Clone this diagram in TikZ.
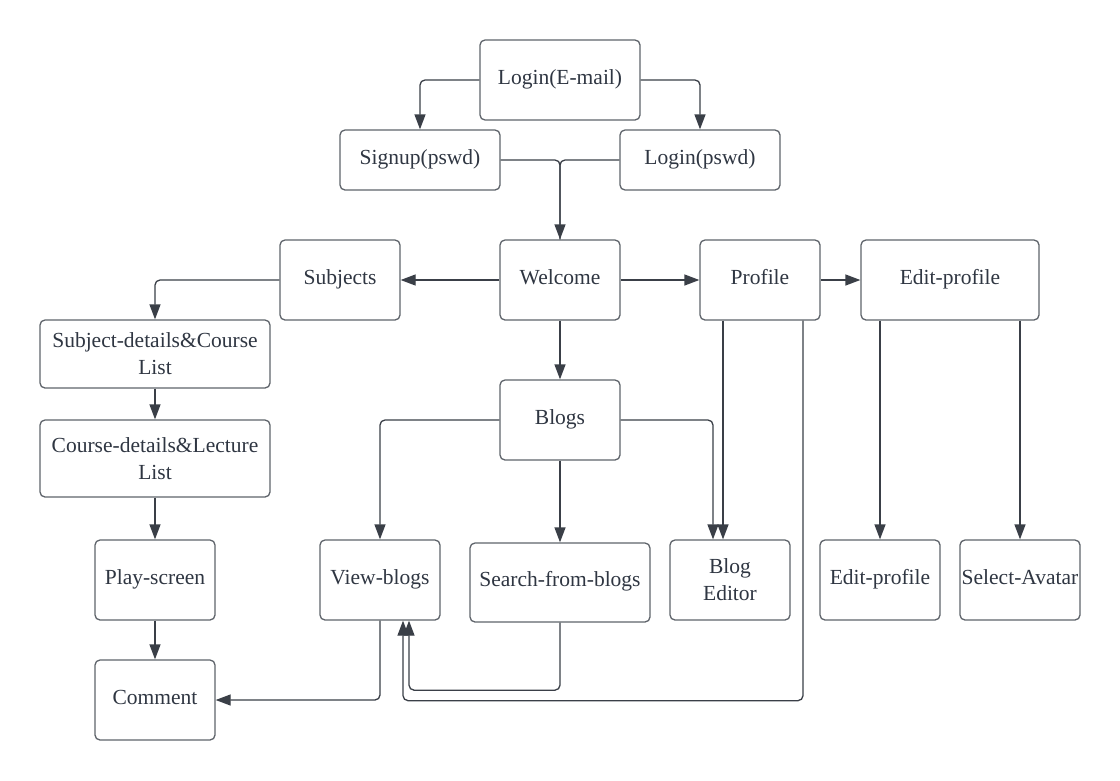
\documentclass[tikz,border=0pt]{standalone}
\usepackage{fontspec}
\setmainfont{Liberation Serif}
\usetikzlibrary{arrows.meta,calc}
\definecolor{boxc}{HTML}{5F646B}
\definecolor{linec}{HTML}{3A3F47}
\definecolor{textc}{HTML}{2F3642}
\begin{document}
\begin{tikzpicture}[x=1pt,y=-1pt,
 box/.style={draw=boxc,line width=1.3pt,rounded corners=5pt,fill=white,text=textc,align=center,font=\fontsize{21.5}{27}\selectfont,inner sep=0pt},
 one/.style={text height=15pt,text depth=7pt},
 arr/.style={draw=linec,line width=1.3pt,rounded corners=5pt,-{Triangle[length=15pt,width=11pt]}},
 ln/.style={draw=linec,line width=1.3pt,rounded corners=5pt}]
\useasboundingbox[fill=white] (0,0) rectangle (1120,780);
\node[box,one,minimum width=160pt,minimum height=80pt] (loge) at (560,80) {Login(E-mail)};
\node[box,one,minimum width=160pt,minimum height=60pt] (signup) at (420,160) {Signup(pswd)};
\node[box,one,minimum width=160pt,minimum height=60pt] (loginp) at (700,160) {Login(pswd)};
\node[box,one,minimum width=120pt,minimum height=80pt] (subjects) at (340,280) {Subjects};
\node[box,one,minimum width=120pt,minimum height=80pt] (welcome) at (560,280) {Welcome};
\node[box,one,minimum width=120pt,minimum height=80pt] (profile) at (760,280) {Profile};
\node[box,one,minimum width=178pt,minimum height=80pt] (editp) at (950,280) {Edit-profile};
\node[box,minimum width=230pt,minimum height=68pt] (subdet) at (155,354) {Subject-details\&Course\\List};
\node[box,minimum width=230pt,minimum height=77pt] (coursedet) at (155,458.5) {Course-details\&Lecture\\List};
\node[box,one,minimum width=120pt,minimum height=80pt] (blogs) at (560,420) {Blogs};
\node[box,one,minimum width=120pt,minimum height=80pt] (play) at (155,580) {Play-screen};
\node[box,one,minimum width=120pt,minimum height=80pt] (viewb) at (380,580) {View-blogs};
\node[box,one,minimum width=180pt,minimum height=79pt] (search) at (560,582.5) {Search-from-blogs};
\node[box,minimum width=120pt,minimum height=80pt] (bedit) at (730,580) {Blog\\Editor};
\node[box,one,minimum width=120pt,minimum height=80pt] (editp2) at (880,580) {Edit-profile};
\node[box,one,minimum width=120pt,minimum height=80pt] (avatar) at (1020,580) {Select-Avatar};
\node[box,one,minimum width=120pt,minimum height=80pt] (comment) at (155,700) {Comment};

\draw[arr] (loge.west) -| (signup.north);
\draw[arr] (loge.east) -| (loginp.north);
\draw[ln] (loginp.west) -| (welcome.north);
\draw[arr] (signup.east) -| (welcome.north);
\draw[arr] (welcome.west) -- (subjects.east);
\draw[arr] (welcome.east) -- (profile.west);
\draw[arr] (profile.east) -- (editp.west);
\draw[arr] (subjects.west) -| (subdet.north);
\draw[arr] (subdet.south) -- (coursedet.north);
\draw[arr] (coursedet.south) -- (play.north);
\draw[arr] (play.south) -- (comment.north);
\draw[arr] (welcome.south) -- (blogs.north);
\draw[arr] (blogs.west) -| (viewb.north);
\draw[arr] (blogs.south) -- (search.north);
\draw[arr] (blogs.east) -| ([xshift=-17pt]bedit.north);
\draw[arr] ([xshift=-37pt]profile.south) -- ([xshift=-7pt]bedit.north);
\draw[arr] ([xshift=43pt]profile.south) -- ++(0,380) -| ([xshift=23pt]viewb.south);
\draw[arr] (search.south) -- ++(0,67.5) -| ([xshift=29pt]viewb.south);
\draw[arr] (viewb.south) |- (comment.east);
\draw[arr] (editp.south -| editp2.north) -- (editp2.north);
\draw[arr] (editp.south -| avatar.north) -- (avatar.north);
\end{tikzpicture}
\end{document}
